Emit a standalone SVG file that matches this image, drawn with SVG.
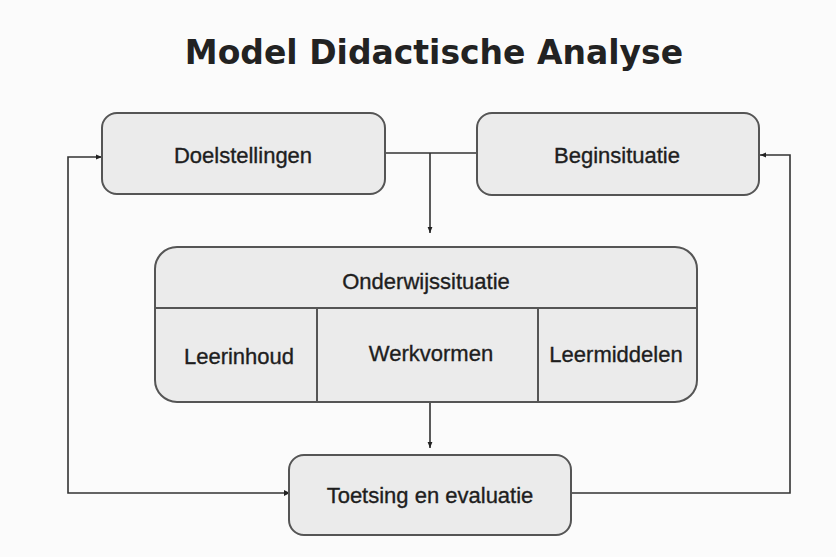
<svg xmlns="http://www.w3.org/2000/svg" width="836" height="557" viewBox="0 0 836 557">
  <style>
    .box { fill: #ebebeb; stroke: #555; stroke-width: 2; }
    .div { stroke: #555; stroke-width: 2; fill: none; }
    .lbl { font-family: "Liberation Sans", Arial, sans-serif; font-size: 22px; fill: #1e1e1e; stroke: #1e1e1e; stroke-width: 0.35; text-anchor: middle; }
    .title { font-family: "DejaVu Sans", Verdana, sans-serif; font-weight: bold; font-size: 33px; fill: #222; text-anchor: middle; }
    .conn { stroke: #333; stroke-width: 1.6; fill: none; }
  </style>
  <defs>
    <marker id="arr" viewBox="0 0 10 10" refX="10" refY="5" markerWidth="6" markerHeight="6" orient="auto" markerUnits="userSpaceOnUse">
      <path d="M0,1 L10,5 L0,9 Z" fill="#222"/>
    </marker>
  </defs>
  <rect width="836" height="557" fill="#fbfbfb"/>
  <text class="title" x="434" y="64">Model Didactische Analyse</text>

  <g id="connectors">
    <path class="conn" d="M385,153 H477"/>
    <path class="conn" d="M430,153 V233" marker-end="url(#arr)"/>
    <path class="conn" d="M430,402 V448" marker-end="url(#arr)"/>
    <path class="conn" d="M290,493 H68 V157 H102" marker-end="url(#arr)"/>
    <path class="conn" d="M571,493 H790 V155 H760" marker-end="url(#arr)"/>
    <path d="M284,490 L290,493 L284,496 Z" fill="#222"/>
  </g>

  <g id="doelstellingen">
    <rect class="box" x="102" y="113" width="283" height="81" rx="15"/>
    <text class="lbl" x="243" y="163">Doelstellingen</text>
  </g>
  <g id="beginsituatie">
    <rect class="box" x="477" y="113" width="282" height="82" rx="15"/>
    <text class="lbl" x="617" y="163">Beginsituatie</text>
  </g>
  <g id="onderwijssituatie">
    <rect class="box" x="155" y="247" width="542" height="155" rx="22"/>
    <path class="div" d="M155,308 H697 M317,308 V402 M538,308 V402"/>
    <text class="lbl" x="426" y="289">Onderwijssituatie</text>
    <text class="lbl" x="239" y="364">Leerinhoud</text>
    <text class="lbl" x="431" y="361">Werkvormen</text>
    <text class="lbl" x="616" y="362">Leermiddelen</text>
  </g>
  <g id="toetsing">
    <rect class="box" x="289" y="455" width="282" height="80" rx="15"/>
    <text class="lbl" x="430" y="503">Toetsing en evaluatie</text>
  </g>
</svg>
